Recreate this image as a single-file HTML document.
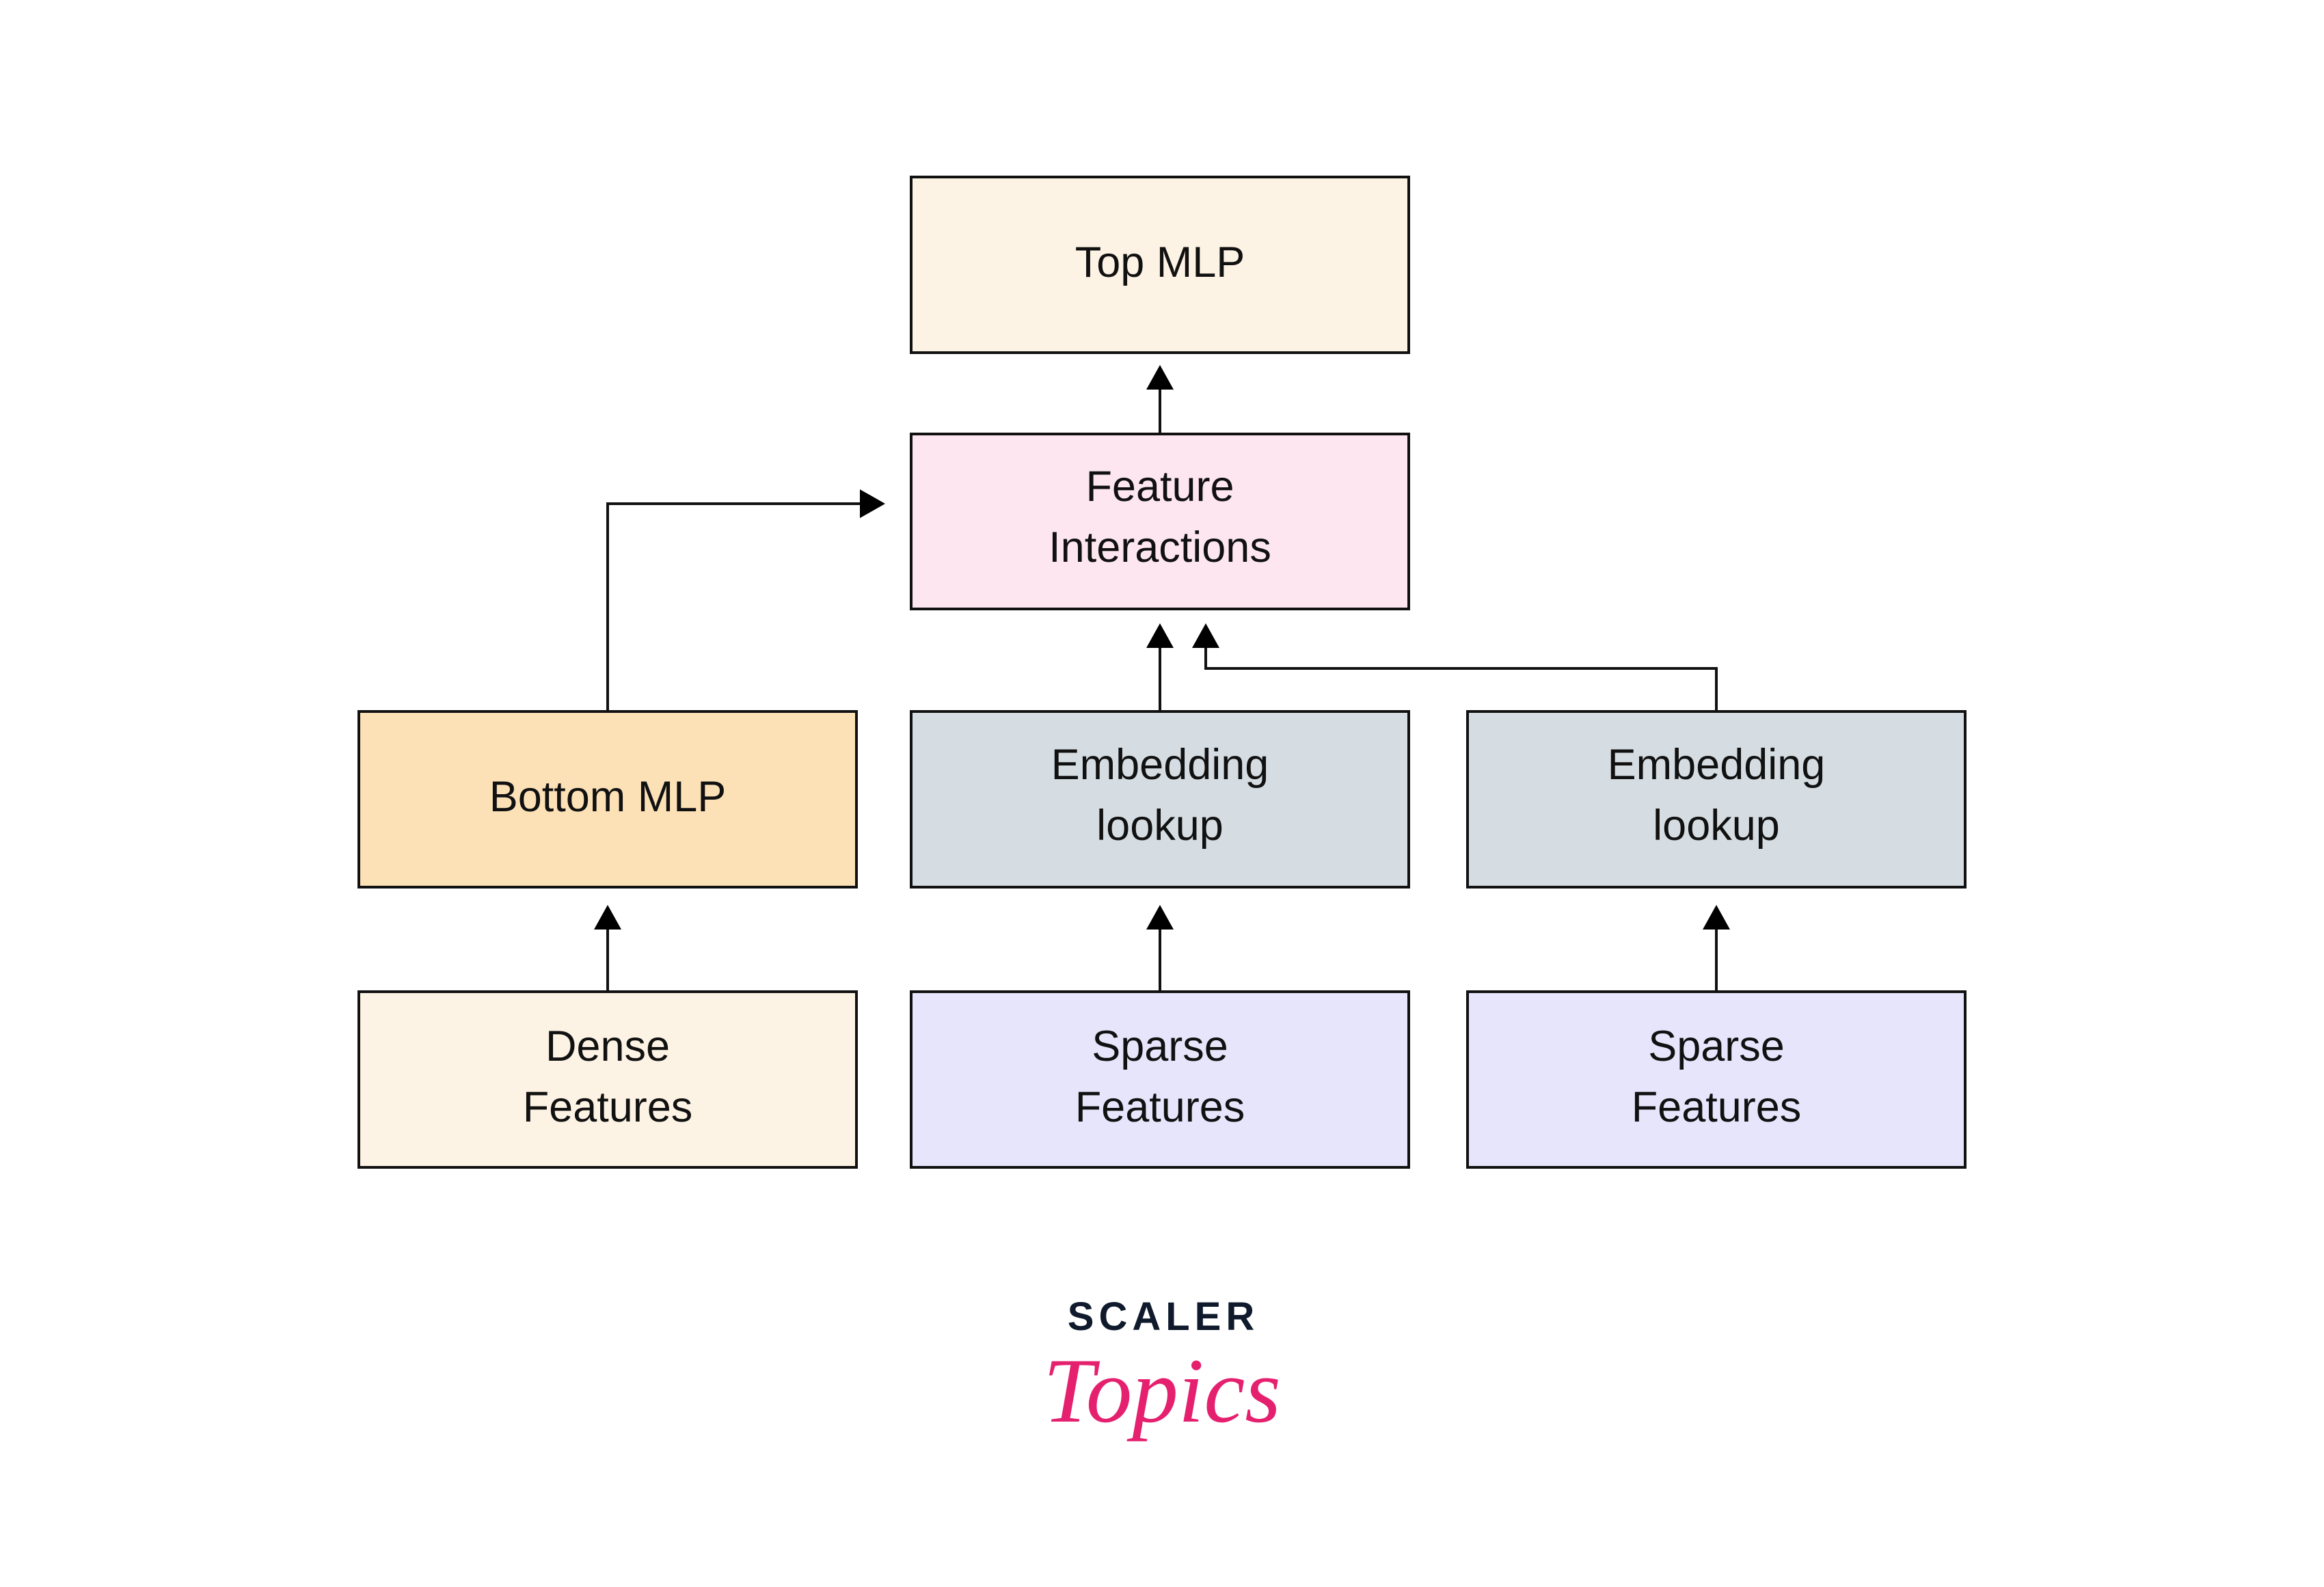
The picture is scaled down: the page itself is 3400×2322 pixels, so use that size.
<!DOCTYPE html>
<html><head><meta charset="utf-8"><style>
html,body{margin:0;padding:0;background:#fff}
svg{display:block}
text{font-family:"Liberation Sans",sans-serif;font-size:63px;fill:#111;text-anchor:middle}
</style></head><body>
<svg width="3400" height="2322" viewBox="0 0 3400 2322" xmlns="http://www.w3.org/2000/svg">
<rect width="3400" height="2322" fill="#fff"/>
<g stroke="#111" stroke-width="4">
<rect x="1333" y="259" width="728" height="257" fill="#fdf3e4"/>
<rect x="1333" y="635" width="728" height="256" fill="#fde6ef"/>
<rect x="525" y="1041" width="728" height="257" fill="#fce1b7"/>
<rect x="1333" y="1041" width="728" height="257" fill="#d5dde2"/>
<rect x="2147" y="1041" width="728" height="257" fill="#d5dde2"/>
<rect x="525" y="1451" width="728" height="257" fill="#fdf3e4"/>
<rect x="1333" y="1451" width="728" height="257" fill="#e6e5fc"/>
<rect x="2147" y="1451" width="728" height="257" fill="#e6e5fc"/>
<g fill="none">
<path d="M1697 635V570"/>
<path d="M1697 1041V945"/>
<path d="M2511 1041V978H1764V945"/>
<path d="M889 1041V737H1262"/>
<path d="M889 1451V1360"/>
<path d="M1697 1451V1360"/>
<path d="M2511 1451V1360"/>
</g>
</g>
<g fill="#000">
<polygon points="1697,534 1677,570 1717,570"/>
<polygon points="1697,912 1677,948 1717,948"/>
<polygon points="1764,912 1744,948 1784,948"/>
<polygon points="1295,737 1258,716 1258,758"/>
<polygon points="889,1324 869,1360 909,1360"/>
<polygon points="1697,1324 1677,1360 1717,1360"/>
<polygon points="2511,1324 2491,1360 2531,1360"/>
</g>
<text x="1697" y="405">Top MLP</text>
<text x="1697" y="733">Feature</text>
<text x="1697" y="822">Interactions</text>
<text x="889" y="1187">Bottom MLP</text>
<text x="1697" y="1140">Embedding</text>
<text x="1697" y="1229">lookup</text>
<text x="2511" y="1140">Embedding</text>
<text x="2511" y="1229">lookup</text>
<text x="889" y="1552">Dense</text>
<text x="889" y="1641">Features</text>
<text x="1697" y="1552">Sparse</text>
<text x="1697" y="1641">Features</text>
<text x="2511" y="1552">Sparse</text>
<text x="2511" y="1641">Features</text>
<text x="1702" y="1946" style="font-size:58px;font-weight:bold;letter-spacing:7px;fill:#0f1a2c">SCALER</text>
<text x="1700" y="2080" style="font-family:'Liberation Serif',serif;font-style:italic;font-size:135px;fill:#e5206e">Topics</text>
</svg>
</body></html>
